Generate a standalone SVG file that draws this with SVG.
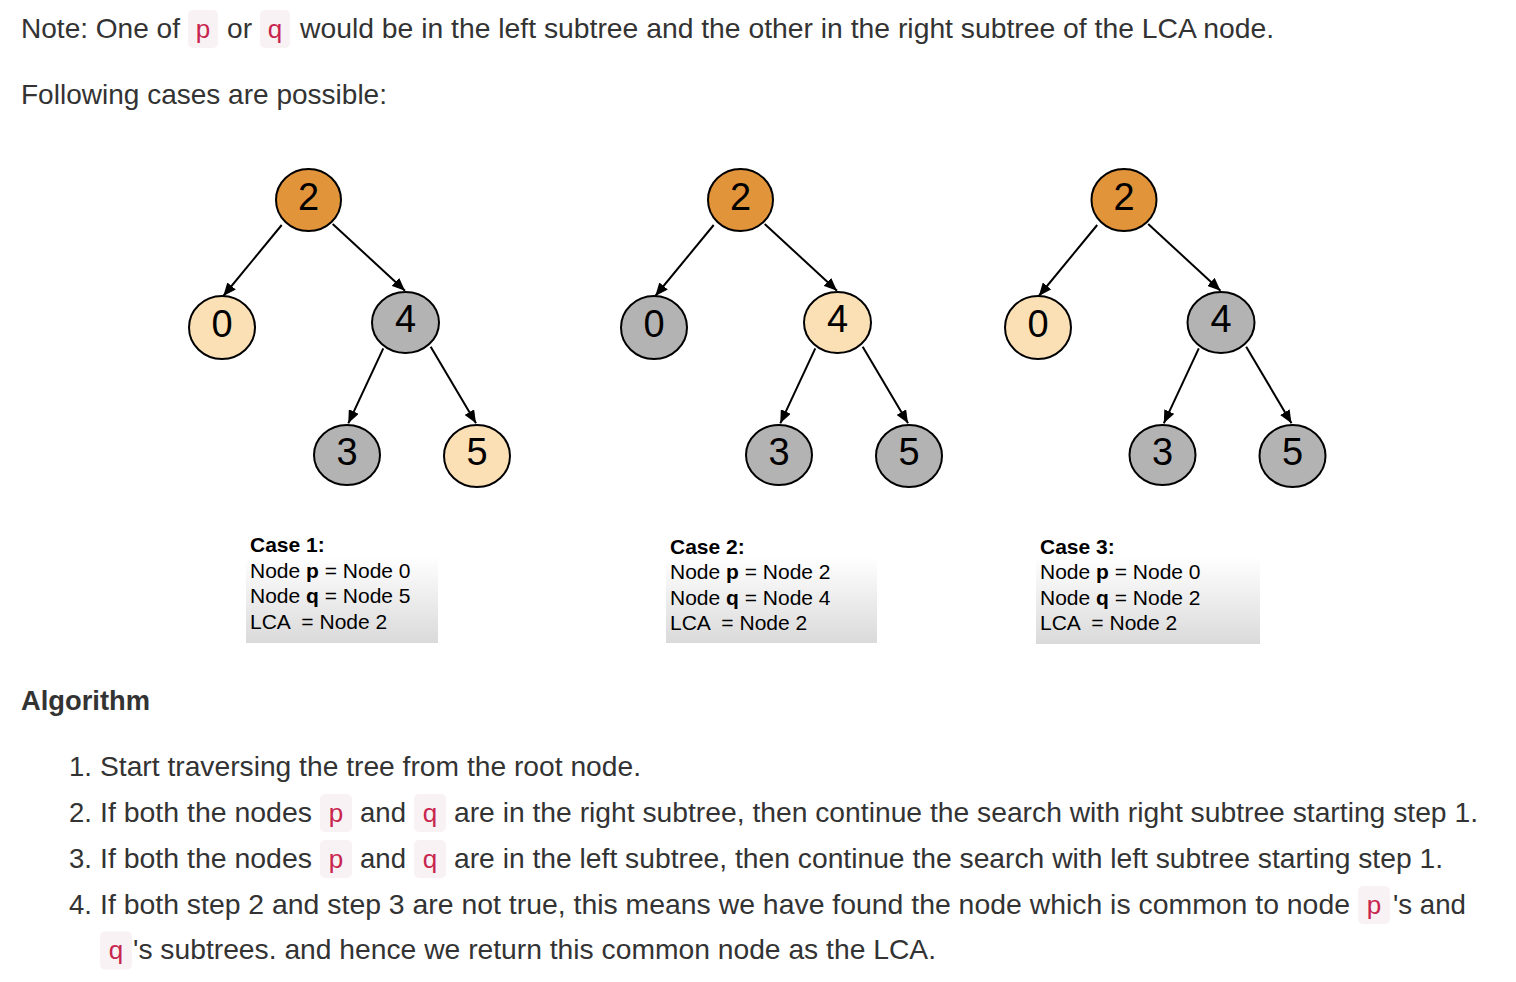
<svg xmlns="http://www.w3.org/2000/svg" width="1516" height="982" viewBox="0 0 1516 982">
<style>
.t{font-family:"Liberation Sans",Arial,Helvetica,sans-serif;font-size:27.5px;fill:#333}
.h{font-family:"Liberation Sans",Arial,Helvetica,sans-serif;font-size:27px;font-weight:bold;fill:#333}
.chip{fill:#f9f2f4}
.ct{font-family:"Liberation Sans",Arial,Helvetica,sans-serif;font-size:26px;fill:#c7254e;text-anchor:middle}
.n{stroke:#000;stroke-width:2}
.orange{fill:#e2943b}
.peach{fill:#fbe0b5}
.gray{fill:#b3b3b3}
.d{font-family:"Liberation Sans",Arial,Helvetica,sans-serif;font-size:38px;fill:#000;text-anchor:middle}
.e{stroke:#000;stroke-width:2;fill:none;marker-end:url(#arr)}
.c{font-family:"Liberation Sans",Arial,Helvetica,sans-serif;font-size:21px;fill:#000}
.b{font-weight:bold}
.box{fill:url(#g)}
</style>
<defs>
<marker id="arr" markerUnits="userSpaceOnUse" markerWidth="13" markerHeight="11" refX="13" refY="5.5" orient="auto">
<path d="M0,0 L13,5.5 L0,11 z" fill="#000"/>
</marker>
<linearGradient id="g" x1="0" y1="0" x2="0" y2="1">
<stop offset="0" stop-color="#ffffff"/>
<stop offset="1" stop-color="#dadada"/>
</linearGradient>
</defs>
<rect width="1516" height="982" fill="#fff"/>

<g id="header">
<text class="t" x="21" y="38" textLength="159" lengthAdjust="spacingAndGlyphs">Note: One of</text>
<rect class="chip" x="188" y="10" width="30" height="38" rx="5"/>
<text class="ct" x="203" y="38">p</text>
<text class="t" x="227" y="38" textLength="25" lengthAdjust="spacingAndGlyphs">or</text>
<rect class="chip" x="260" y="10" width="30" height="38" rx="5"/>
<text class="ct" x="275" y="38">q</text>
<text class="t" x="300" y="38" textLength="974" lengthAdjust="spacingAndGlyphs">would be in the left subtree and the other in the right subtree of the LCA node.</text>
<text class="t" x="21" y="104" textLength="366" lengthAdjust="spacingAndGlyphs">Following cases are possible:</text>
</g>

<g id="connectors">
<line class="e" x1="281.7" y1="225" x2="223.3" y2="296"/>
<line class="e" x1="332.7" y1="224" x2="405" y2="290.7"/>
<line class="e" x1="383.3" y1="348.3" x2="348.3" y2="423.3"/>
<line class="e" x1="430.7" y1="346.7" x2="476" y2="423.3"/>

<line class="e" x1="713.7" y1="225" x2="655.3" y2="296"/>
<line class="e" x1="764.7" y1="224" x2="837" y2="290.7"/>
<line class="e" x1="815.3" y1="348.3" x2="780.3" y2="423.3"/>
<line class="e" x1="862.7" y1="346.7" x2="908" y2="423.3"/>

<line class="e" x1="1097.2" y1="225" x2="1038.8" y2="296"/>
<line class="e" x1="1148.2" y1="224" x2="1220.5" y2="290.7"/>
<line class="e" x1="1198.8" y1="348.3" x2="1163.8" y2="423.3"/>
<line class="e" x1="1246.2" y1="346.7" x2="1291.5" y2="423.3"/>
</g>

<g id="case1-node2"><ellipse class="n orange" cx="308.5" cy="200" rx="32.5" ry="31"/><text class="d" x="308.5" y="210">2</text></g>
<g id="case1-node0"><ellipse class="n peach" cx="222" cy="327.5" rx="33" ry="31.5"/><text class="d" x="222" y="337">0</text></g>
<g id="case1-node4"><ellipse class="n gray" cx="405.5" cy="322.5" rx="33.5" ry="30.5"/><text class="d" x="405.5" y="332">4</text></g>
<g id="case1-node3"><ellipse class="n gray" cx="347" cy="455" rx="33" ry="30"/><text class="d" x="347" y="464.5">3</text></g>
<g id="case1-node5"><ellipse class="n peach" cx="477" cy="456" rx="33" ry="31"/><text class="d" x="477" y="465">5</text></g>

<g id="case2-node2"><ellipse class="n orange" cx="740.5" cy="200" rx="32.5" ry="31"/><text class="d" x="740.5" y="210">2</text></g>
<g id="case2-node0"><ellipse class="n gray" cx="654" cy="327.5" rx="33" ry="31.5"/><text class="d" x="654" y="337">0</text></g>
<g id="case2-node4"><ellipse class="n peach" cx="837.5" cy="322.5" rx="33.5" ry="30.5"/><text class="d" x="837.5" y="332">4</text></g>
<g id="case2-node3"><ellipse class="n gray" cx="779" cy="455" rx="33" ry="30"/><text class="d" x="779" y="464.5">3</text></g>
<g id="case2-node5"><ellipse class="n gray" cx="909" cy="456" rx="33" ry="31"/><text class="d" x="909" y="465">5</text></g>

<g id="case3-node2"><ellipse class="n orange" cx="1124" cy="200" rx="32.5" ry="31"/><text class="d" x="1124" y="210">2</text></g>
<g id="case3-node0"><ellipse class="n peach" cx="1038" cy="327.5" rx="33" ry="31.5"/><text class="d" x="1038" y="337">0</text></g>
<g id="case3-node4"><ellipse class="n gray" cx="1221" cy="322.5" rx="33.5" ry="30.5"/><text class="d" x="1221" y="332">4</text></g>
<g id="case3-node3"><ellipse class="n gray" cx="1162.5" cy="455" rx="33" ry="30"/><text class="d" x="1162.5" y="464.5">3</text></g>
<g id="case3-node5"><ellipse class="n gray" cx="1292.5" cy="456" rx="33" ry="31"/><text class="d" x="1292.5" y="465">5</text></g>

<g id="case1-label">
<rect class="box" x="246" y="556" width="192" height="87"/>
<text class="c b" x="250" y="552">Case 1:</text>
<text class="c" x="250" y="577.5">Node <tspan class="b">p</tspan> = Node 0</text>
<text class="c" x="250" y="603">Node <tspan class="b">q</tspan> = Node 5</text>
<text class="c" x="250" y="628.5" xml:space="preserve">LCA  = Node 2</text>
</g>
<g id="case2-label">
<rect class="box" x="666" y="557" width="211" height="86"/>
<text class="c b" x="670" y="553.5">Case 2:</text>
<text class="c" x="670" y="579">Node <tspan class="b">p</tspan> = Node 2</text>
<text class="c" x="670" y="604.5">Node <tspan class="b">q</tspan> = Node 4</text>
<text class="c" x="670" y="630" xml:space="preserve">LCA  = Node 2</text>
</g>
<g id="case3-label">
<rect class="box" x="1036" y="557" width="224" height="87"/>
<text class="c b" x="1040" y="553.5">Case 3:</text>
<text class="c" x="1040" y="579">Node <tspan class="b">p</tspan> = Node 0</text>
<text class="c" x="1040" y="604.5">Node <tspan class="b">q</tspan> = Node 2</text>
<text class="c" x="1040" y="630" xml:space="preserve">LCA  = Node 2</text>
</g>

<g id="algorithm">
<text class="h" x="21" y="710" textLength="129" lengthAdjust="spacingAndGlyphs">Algorithm</text>

<text class="t" x="92" y="775.5" text-anchor="end">1.</text>
<text class="t" x="100" y="775.5" textLength="541" lengthAdjust="spacingAndGlyphs">Start traversing the tree from the root node.</text>

<text class="t" x="92" y="821.5" text-anchor="end">2.</text>
<text class="t" x="100" y="821.5" textLength="212" lengthAdjust="spacingAndGlyphs">If both the nodes</text>
<rect class="chip" x="320" y="794" width="32" height="38" rx="5"/>
<text class="ct" x="336" y="821.5">p</text>
<text class="t" x="360" y="821.5" textLength="46" lengthAdjust="spacingAndGlyphs">and</text>
<rect class="chip" x="414" y="794" width="32" height="38" rx="5"/>
<text class="ct" x="430" y="821.5">q</text>
<text class="t" x="454" y="821.5" textLength="1024" lengthAdjust="spacingAndGlyphs">are in the right subtree, then continue the search with right subtree starting step 1.</text>

<text class="t" x="92" y="867.5" text-anchor="end">3.</text>
<text class="t" x="100" y="867.5" textLength="212" lengthAdjust="spacingAndGlyphs">If both the nodes</text>
<rect class="chip" x="320" y="840" width="32" height="38" rx="5"/>
<text class="ct" x="336" y="867.5">p</text>
<text class="t" x="360" y="867.5" textLength="46" lengthAdjust="spacingAndGlyphs">and</text>
<rect class="chip" x="414" y="840" width="32" height="38" rx="5"/>
<text class="ct" x="430" y="867.5">q</text>
<text class="t" x="454" y="867.5" textLength="989" lengthAdjust="spacingAndGlyphs">are in the left subtree, then continue the search with left subtree starting step 1.</text>

<text class="t" x="92" y="913.5" text-anchor="end">4.</text>
<text class="t" x="100" y="913.5" textLength="1250" lengthAdjust="spacingAndGlyphs">If both step 2 and step 3 are not true, this means we have found the node which is common to node</text>
<rect class="chip" x="1358" y="886" width="32" height="38" rx="5"/>
<text class="ct" x="1374" y="913.5">p</text>
<text class="t" x="1393" y="913.5" textLength="73" lengthAdjust="spacingAndGlyphs">'s and</text>
<rect class="chip" x="100" y="931.5" width="32" height="38" rx="5"/>
<text class="ct" x="116" y="959">q</text>
<text class="t" x="133" y="959" textLength="803" lengthAdjust="spacingAndGlyphs">'s subtrees. and hence we return this common node as the LCA.</text>
</g>
</svg>
